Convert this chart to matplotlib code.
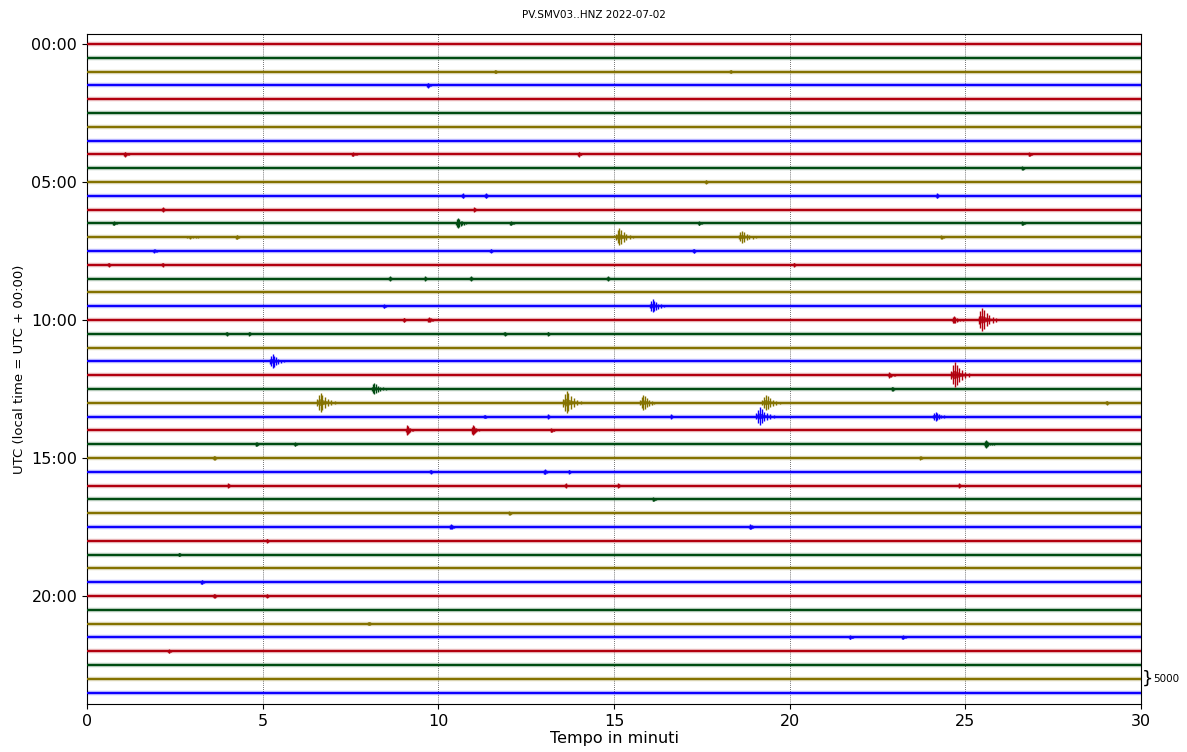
import matplotlib
matplotlib.use("Agg")
import matplotlib.pyplot as plt
from matplotlib.patches import Polygon

# ---- data ----
title = "PV.SMV03..HNZ 2022-07-02"
n_lines = 48                      # one trace per 30 minutes
colors = ["#B2000F", "#004C12", "#847200", "#0E01FF"]
ytick_lines = [0, 10, 20, 30, 40]
ytick_labels = ["00:00", "05:00", "10:00", "15:00", "20:00"]
xticks = [0, 5, 10, 15, 20, 25, 30]
scale_counts = 5000               # counts per trace spacing
scale_line = 46

# events: trace index, onset minute, half amplitude (counts), duration (min)
ev_line = [2, 2, 3, 8, 8, 8, 8, 9, 10, 11, 11, 11, 12, 12,
           13, 13, 13, 13, 13, 14, 14, 14, 14, 14, 15, 15, 15, 16, 16, 16,
           17, 17, 17, 17, 19, 19, 20, 20, 20, 20, 21, 21, 21, 21,
           23, 24, 24, 25, 25, 26, 26, 26, 26, 26, 27, 27, 27, 27, 27,
           28, 28, 28, 29, 29, 29, 30, 30, 31, 31, 31, 32, 32, 32, 32,
           33, 34, 35, 35, 36, 37, 39, 40, 40, 42, 43, 43, 44]
ev_min = [11.6, 18.3, 9.68, 1.05, 7.54, 13.97, 26.8, 26.6, 17.6, 10.67, 11.33, 24.17, 2.13, 11.0,
          0.74, 10.5, 12.04, 17.4, 26.6, 2.85, 4.24, 15.05, 18.55, 24.3, 1.88, 11.47, 17.25, 0.6, 2.13, 20.1,
          8.6, 9.6, 10.9, 14.8, 16.02, 8.43, 9.0, 9.7, 24.62, 25.38, 3.96, 4.6, 11.87, 13.1,
          5.2, 22.8, 24.6, 8.1, 22.9, 6.55, 13.55, 15.75, 19.22, 29.0, 19.05, 24.08, 13.1, 11.3, 16.6,
          9.08, 10.95, 13.2, 4.8, 5.9, 25.52, 3.6, 23.7, 9.76, 13.0, 13.7, 4.0, 13.6, 15.1, 24.8,
          16.1, 12.0, 10.33, 18.85, 5.1, 2.6, 3.24, 3.6, 5.1, 8.0, 21.7, 23.2, 2.3]
ev_amp = [700, 600, 900, 900, 800, 900, 800, 700, 700, 900, 900, 900, 800, 800,
          700, 1900, 800, 700, 800, 600, 800, 3300, 2300, 700, 700, 700, 800, 700, 700, 700,
          800, 800, 800, 800, 2500, 700, 800, 1000, 1400, 4300, 700, 700, 800, 800,
          2600, 1000, 4700, 2200, 800, 3700, 4300, 2900, 2900, 800, 3300, 1800, 800, 700, 800,
          1800, 1800, 800, 800, 700, 1400, 800, 700, 800, 1000, 800, 800, 800, 800, 800,
          800, 700, 1000, 1000, 800, 700, 800, 800, 700, 700, 700, 700, 700]
ev_dur = [0.1, 0.1, 0.1, 0.15, 0.15, 0.1, 0.1, 0.1, 0.1, 0.1, 0.1, 0.1, 0.15, 0.1,
          0.1, 0.3, 0.1, 0.1, 0.1, 0.4, 0.1, 0.5, 0.5, 0.1, 0.2, 0.1, 0.1, 0.1, 0.1, 0.1,
          0.1, 0.1, 0.1, 0.1, 0.4, 0.1, 0.1, 0.2, 0.3, 0.5, 0.1, 0.1, 0.1, 0.1,
          0.4, 0.2, 0.5, 0.4, 0.1, 0.5, 0.5, 0.4, 0.5, 0.1, 0.5, 0.4, 0.1, 0.1, 0.1,
          0.2, 0.2, 0.1, 0.1, 0.1, 0.3, 0.1, 0.1, 0.1, 0.15, 0.1, 0.1, 0.1, 0.1, 0.1,
          0.1, 0.1, 0.15, 0.15, 0.1, 0.1, 0.1, 0.1, 0.1, 0.1, 0.1, 0.1, 0.1]

# burst glyph: relative positions within an event and relative heights of its peaks
glyph_pos = [0.0, 0.1, 0.2, 0.3, 0.45, 0.6, 0.8, 1.0]
glyph_hgt = [0.35, 0.75, 1.0, 0.8, 0.55, 0.38, 0.25, 0.15]

# ---- figure ----
fig = plt.figure(figsize=(11.87, 7.52), dpi=100)
ax = fig.add_axes([87 / 1187, 1 - 704 / 752, 1054 / 1187, 670 / 752])

xmin, xmax = 0, 30
for i in range(n_lines):
    c = colors[i % 4]
    ax.plot([xmin, xmax], [i, i], color=c, lw=3.2, alpha=0.28, solid_capstyle="butt", zorder=2)
    ax.plot([xmin, xmax], [i, i], color=c, lw=1.5, solid_capstyle="butt", zorder=3)

for ln, t, a, d in zip(ev_line, ev_min, ev_amp, ev_dur):
    c = colors[ln % 4]
    h = a / scale_counts
    xs = [t + p * d for p in glyph_pos]
    lo = [ln - g * h for g in glyph_hgt]
    hi = [ln + g * h * 0.9 for g in glyph_hgt]
    ax.vlines(xs, lo, hi, color=c, lw=1.0, zorder=4)
    env = [(t - 0.05 * d, ln)] + list(zip(xs, hi)) + [(t + d * 1.1, ln)] + list(zip(xs, lo))[::-1]
    env_s = [(x, ln + (y - ln) * 0.35) for x, y in env]
    ax.add_patch(Polygon(env_s, closed=True, fc=c, ec="none", alpha=0.8, zorder=4))

for g in xticks[1:-1]:
    ax.axvline(g, color="#444444", lw=0.6, ls=(0, (1, 1.5)), zorder=1)

ax.set_xlim(xmin, xmax)
ax.set_ylim(n_lines - 1 + 0.83, -0.725)
ax.set_xticks(xticks)
ax.set_xticklabels([str(x) for x in xticks], fontsize=11.5)
ax.set_yticks(ytick_lines)
ax.set_yticklabels(ytick_labels, fontsize=11.5)
ax.set_xlabel("Tempo in minuti", fontsize=11.5, labelpad=2)
ax.set_ylabel("UTC (local time = UTC + 00:00)", fontsize=9.5)
fig.text(0.5, 1 - 15 / 752, title, ha="center", va="center", fontsize=7.5)

# scale bracket
ax.text(30.02, scale_line, "}", ha="left", va="center", fontsize=13, clip_on=False)
ax.text(30.36, scale_line, "5000", ha="left", va="center", fontsize=7.5, clip_on=False)

fig.savefig("out.png", dpi=100)
